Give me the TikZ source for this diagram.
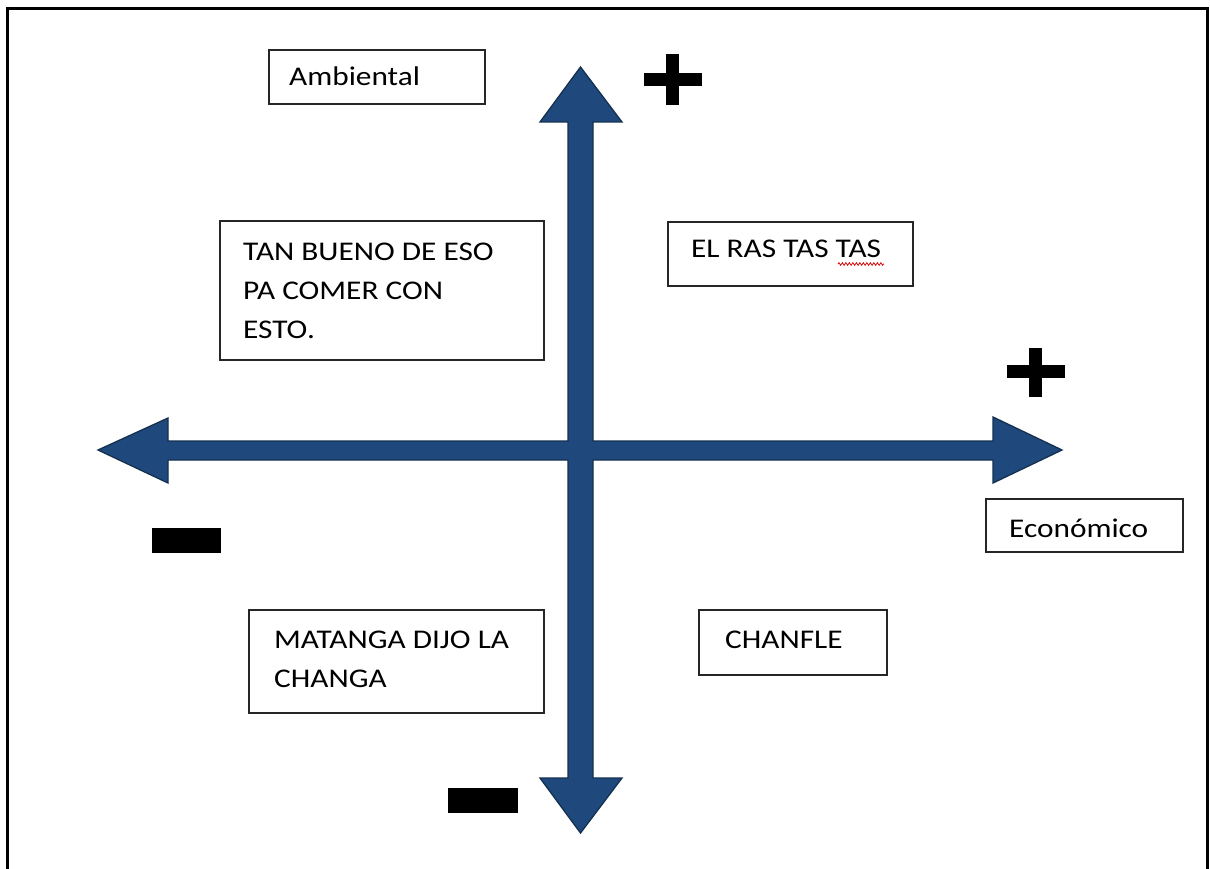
\documentclass[tikz,border=0pt]{standalone}
\usepackage{fontspec}
\usepackage{graphicx}
\setmainfont{Carlito}
\usetikzlibrary{decorations.pathmorphing}

\definecolor{axisblue}{HTML}{1F497D}
\definecolor{axisedge}{HTML}{14304F}
\definecolor{boxedge}{HTML}{262626}

% Calibri-like text, slightly widened
\newcommand{\widetext}[1]{\scalebox{1.16}[1]{#1}}

\tikzset{
  box/.style={draw=boxedge, line width=1.8pt, fill=white, inner sep=0pt},
  label/.style={anchor=base west, inner sep=0pt, font=\fontsize{27}{39}\selectfont},
  signbar/.style={fill=black, draw=none},
}

\begin{document}
\begin{tikzpicture}[x=1pt, y=-1pt]
\useasboundingbox (0,0) rectangle (1210,869);
\clip (0,0) rectangle (1210,869);

% page frame
\draw[line width=3pt, black] (7,9) rectangle (1207,900);

% four-way axis arrow
\coordinate (O) at (580.5,450.5);
\filldraw[fill=axisblue, draw=axisedge, line width=1.3pt, line join=miter]
  (580.5,67) -- (622,122) -- (593,122) -- (593,441) -- (993,441) -- (993,417)
  -- (1062,450) -- (993,483) -- (993,460) -- (593,460) -- (593,778) -- (622,778)
  -- (580.5,833) -- (540,778) -- (568,778) -- (568,460) -- (168,460) -- (168,483)
  -- (98,450) -- (168,418) -- (168,441) -- (568,441) -- (568,122) -- (540,122)
  -- cycle;

% plus and minus signs
\fill[signbar] (644,73) rectangle (702,86);
\fill[signbar] (666,54) rectangle (679,105);
\fill[signbar] (1007,365) rectangle (1065,378);
\fill[signbar] (1029,348) rectangle (1042,397);
\fill[signbar] (152,528) rectangle (221,553);
\fill[signbar] (448,788) rectangle (518,813);

% boxes
\node[box, minimum width=216pt, minimum height=54pt] (amb) at (377,77) {};
\node[box, minimum width=324pt, minimum height=139pt] (q2) at (382,290.5) {};
\node[box, minimum width=245pt, minimum height=64pt] (q1) at (790.5,254) {};
\node[box, minimum width=295pt, minimum height=103pt] (q3) at (396.5,661.5) {};
\node[box, minimum width=188pt, minimum height=65pt] (q4) at (793,642.5) {};
\node[box, minimum width=197pt, minimum height=53pt] (eco) at (1084.5,525.5) {};

% texts
\node[label] (ambt) at (289,86) {\widetext{Ambiental}};
\node[label] (q2a) at (243,261) {\widetext{TAN BUENO DE ESO}};
\node[label] (q2b) at (243,299) {\widetext{PA COMER CON}};
\node[label] (q2c) at (243,338) {\widetext{ESTO.}};
\node[label] (q1t) at (691,258) {\widetext{EL RAS TAS TAS}};
\node[label] (q3a) at (274,648) {\widetext{MATANGA DIJO LA}};
\node[label] (q3b) at (274,687) {\widetext{CHANGA}};
\node[label] (q4t) at (725,648) {\widetext{CHANFLE}};
\node[label] (ecot) at (1009,537) {\widetext{Económico}};

% spelling mark under the last word
\coordinate (sqA) at (838,264);
\coordinate (sqB) at (884,264);
\draw[red!85!black, line width=0.8pt, decorate,
      decoration={zigzag, amplitude=1.3pt, segment length=3.5pt}] (sqA) -- (sqB);
\end{tikzpicture}
\end{document}
